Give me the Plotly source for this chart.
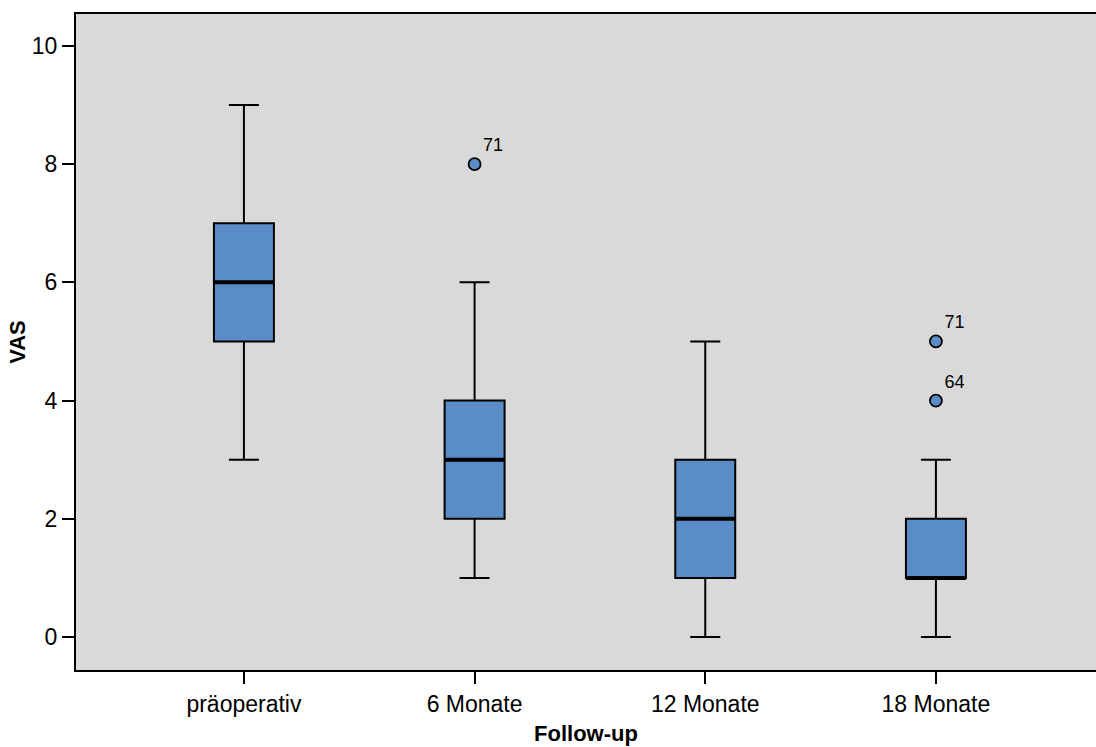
import plotly.graph_objects as go

categories = ["präoperativ", "6 Monate", "12 Monate", "18 Monate"]
lower_whisker = [3, 1, 0, 0]
q1_values = [5, 2, 1, 1]
median_values = [6, 3, 2, 1]
q3_values = [7, 4, 3, 2]
upper_whisker = [9, 6, 5, 3]

outlier_category = [1, 3, 3]
outlier_values = [8, 5, 4]
outlier_labels = ["71", "71", "64"]

y_ticks = [0, 2, 4, 6, 8, 10]

BOX_COLOR = "#5a8cc7"
BG = "#d9d9d9"
FONT = "Liberation Sans, Arial, sans-serif"
BOX_W = 0.26

xpos = list(range(len(categories)))

fig = go.Figure()
fig.add_trace(go.Box(
    x=xpos,
    q1=q1_values, median=median_values, q3=q3_values,
    lowerfence=lower_whisker, upperfence=upper_whisker,
    width=BOX_W, whiskerwidth=0.5,
    fillcolor=BOX_COLOR,
    line=dict(color="black", width=2),
    boxpoints=False, showlegend=False, hoverinfo="skip",
))

# thick median lines
mx, my = [], []
for xi, m in zip(xpos, median_values):
    mx += [xi - BOX_W / 2, xi + BOX_W / 2, None]
    my += [m, m, None]
fig.add_trace(go.Scatter(x=mx, y=my, mode="lines",
                         line=dict(color="black", width=4),
                         showlegend=False, hoverinfo="skip"))

fig.add_trace(go.Scatter(
    x=outlier_category, y=outlier_values, mode="markers+text",
    text=outlier_labels, textposition="top right",
    textfont=dict(family=FONT, size=18, color="black"),
    marker=dict(size=12, color=BOX_COLOR, line=dict(color="black", width=1.8)),
    showlegend=False, hoverinfo="skip",
))

fig.update_layout(
    width=1096, height=747,
    margin=dict(l=76, r=0, t=14, b=77),
    paper_bgcolor="white", plot_bgcolor=BG,
    font=dict(family=FONT, size=23, color="black"),
    xaxis=dict(
        range=[-0.728, 3.694], tickmode="array", tickvals=xpos, ticktext=categories,
        showgrid=False, zeroline=False, showline=True, linecolor="black", linewidth=2,
        mirror=True, ticks="outside", ticklen=12, tickwidth=2, tickcolor="black",
        title=dict(text="<b>Follow-up</b>", standoff=10, font=dict(size=22)),
    ),
    yaxis=dict(
        range=[-0.558, 10.54], tickmode="array", tickvals=y_ticks,
        showgrid=False, zeroline=False, showline=True, linecolor="black", linewidth=2,
        ticks="outside", ticklen=12, tickwidth=2, tickcolor="black",
        title=dict(text="<b>VAS</b>", standoff=0, font=dict(size=22)),
    ),
)

fig.write_html(
    "out.html",
    config={"displayModeBar": False},
    post_script="document.body.style.margin='0';document.body.style.overflow='hidden';",
)
